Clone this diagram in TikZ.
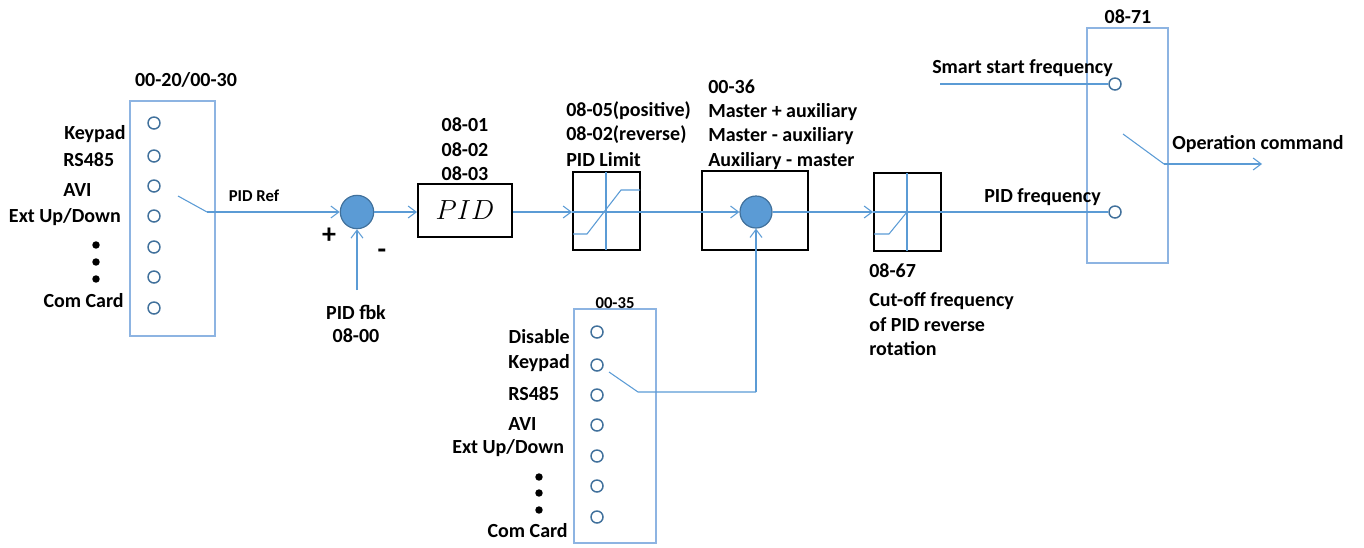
\documentclass[tikz,border=0pt]{standalone}
\usepackage{fontspec}
\setmainfont{Carlito}
\usetikzlibrary{arrows.meta}
\definecolor{ln}{HTML}{5B9BD5}
\definecolor{sw}{HTML}{8DB4E2}
\definecolor{cb}{HTML}{41719C}
\begin{document}
\begin{tikzpicture}[x=0.75pt,y=-0.75pt,
 lbl/.style={font=\fontsize{15}{18}\selectfont\bfseries, inner sep=0pt, yshift=-2.2pt},
 slbl/.style={font=\fontsize{12.5}{15}\selectfont\bfseries, inner sep=0pt, yshift=-2pt},
 sgn/.style={font=\fontsize{21}{24}\selectfont\bfseries, inner sep=0pt},
 swbox/.style={draw=sw, line width=0.9pt, inner sep=0pt},
 term/.style={circle, draw=cb, line width=1.1pt, fill=white, minimum size=9pt, inner sep=0pt},
 blk/.style={draw=black, line width=1.5pt, inner sep=0pt},
 sumc/.style={circle, fill=ln, draw=cb, line width=0.9pt, minimum size=25pt, inner sep=0pt},
 wire/.style={draw=ln, line width=0.8pt},
 arr/.style={wire, -{Straight Barb[length=6pt,width=9pt]}},
 dotm/.style={fill=black},
]
\useasboundingbox (0,0) rectangle (1364,547);

% ---------- source selector 00-20/00-30 ----------
\node[swbox, minimum width=63.75pt, minimum height=176.25pt] (b1) at (172.5,218.5) {};
\node[lbl] (t1) at (186,77) {00-20/00-30};
\foreach \i/\y in {1/123,2/156,3/186,4/216,5/247,6/277,7/308}
  \node[term] (a\i) at (154,\y) {};
\node[lbl, anchor=mid west] (l1) at (64,133) {Keypad};
\node[lbl, anchor=mid west] (l2) at (63,160) {RS485};
\node[lbl, anchor=mid west] (l3) at (63,190) {AVI};
\node[lbl, anchor=mid east] (l4) at (121,216) {Ext Up/Down};
\node[lbl, anchor=mid east] (l5) at (124,301) {Com Card};
\foreach \y in {245,262,279} \fill[dotm] (96,\y) circle (2.8pt);

% ---------- summing point 1 ----------
\node[sumc] (s1) at (357,212) {};
\coordinate (sw1a) at (178,196);
\coordinate (sw1b) at (207,212);
\draw[wire] (sw1a) -- (sw1b);
\draw[arr] (sw1b) -- (s1.west);
\node[slbl] (pidref) at (254,193) {PID Ref};
\node[sgn] (plus) at (329,236) {+};
\node[sgn] (minus) at (382,254) {-};
\coordinate (fb) at (357,290);
\draw[arr] (fb) -- (s1.south);
\node[lbl] (fbk1) at (356,310) {PID fbk};
\node[lbl] (fbk2) at (356,333) {08-00};

% ---------- PID block ----------
\node[blk, minimum width=70.5pt, minimum height=39.75pt] (pid) at (465,210.5)
  {\fontsize{21}{24}\selectfont$PID$};
\node[lbl] (p1) at (465,122) {08-01};
\node[lbl] (p2) at (465,147) {08-02};
\node[lbl] (p3) at (465,171) {08-03};
\draw[arr] (s1.east) -- (pid.west |- s1.east);

% ---------- PID limit ----------
\node[blk, minimum width=50.25pt, minimum height=58.5pt] (lim) at (606.5,211) {};
\draw[arr] (pid.east |- s1.east) -- (lim.west |- s1.east);
\draw[wire] (606,172) -- (606,250);
\draw[wire] (lim.west |- s1.east) -- (lim.east |- s1.east);
\draw[wire] (573,234) -- (587,234) -- (621,190) -- (640,190);
\node[lbl, anchor=mid west] (lm1) at (566,110) {08-05(positive)};
\node[lbl, anchor=mid west] (lm2) at (566,134) {08-02(reverse)};
\node[lbl, anchor=mid west] (lm3) at (566,160) {PID Limit};

% ---------- master/auxiliary ----------
\node[blk, minimum width=79.5pt, minimum height=59.25pt] (mix) at (755,210.5) {};
\node[sumc, minimum size=24pt] (s2) at (756,212) {};
\draw[arr] (lim.east |- s1.east) -- (s2.west);
\node[lbl, anchor=mid west] (m0) at (708,87) {00-36};
\node[lbl, anchor=mid west] (m1) at (708,111) {Master + auxiliary};
\node[lbl, anchor=mid west] (m2) at (708,135) {Master - auxiliary};
\node[lbl, anchor=mid west] (m3) at (708,160) {Auxiliary - master};

% ---------- cut-off 08-67 ----------
\node[blk, minimum width=50.25pt, minimum height=58.5pt] (cut) at (907.5,212) {};
\draw[arr] (s2.east) -- (cut.west |- s2.east);
\draw[wire] (907,173) -- (907,251);
\draw[wire] (cut.west |- s2.east) -- (cut.east |- s2.east);
\draw[wire] (874,234) -- (889,234) -- (907,212);
\node[lbl, anchor=mid west] (c0) at (869,271) {08-67};
\node[lbl, anchor=mid west] (c1) at (869,300) {Cut-off frequency};
\node[lbl, anchor=mid west] (c2) at (869,325) {of PID reverse};
\node[lbl, anchor=mid west] (c3) at (869,349) {rotation};

% ---------- output selector 08-71 ----------
\node[swbox, minimum width=60.75pt, minimum height=176.25pt] (b4) at (1127.5,145.5) {};
\node[lbl] (t4) at (1128,14) {08-71};
\node[term] (o1) at (1115,84) {};
\node[term] (o2) at (1115,212) {};
\coordinate (ss) at (940,84);
\draw[wire] (ss) -- (o1.west);
\draw[wire] (cut.east |- s2.east) -- (o2.west);
\node[lbl, anchor=mid west] (sst) at (932,67) {Smart start frequency};
\node[lbl, anchor=mid west] (pf) at (984,196) {PID frequency};
\coordinate (sw4a) at (1123,134);
\coordinate (sw4b) at (1164,164);
\coordinate (out) at (1262,164);
\draw[wire] (sw4a) -- (sw4b);
\draw[arr] (sw4b) -- (out);
\node[lbl, anchor=mid west] (oc) at (1172,143) {Operation command};

% ---------- auxiliary selector 00-35 ----------
\node[swbox, minimum width=61.5pt, minimum height=175.5pt] (b5) at (615,426) {};
\node[slbl] (t5) at (615,300) {00-35};
\foreach \i/\y in {1/332,2/365,3/395,4/425,5/456,6/486,7/517}
  \node[term] (e\i) at (597,\y) {};
\node[lbl, anchor=mid east] (k1) at (570,337) {Disable};
\node[lbl, anchor=mid east] (k2) at (570,362) {Keypad};
\node[lbl, anchor=mid west] (k3) at (508,394) {RS485};
\node[lbl, anchor=mid west] (k4) at (508,424) {AVI};
\node[lbl, anchor=mid west] (k5) at (452,447) {Ext Up/Down};
\node[lbl, anchor=mid east] (k6) at (568,531) {Com Card};
\foreach \y in {477,493,510} \fill[dotm] (539,\y) circle (2.8pt);
\coordinate (sw5a) at (609,372);
\coordinate (sw5b) at (638,392);
\coordinate (sw5c) at (756,392);
\draw[wire] (sw5a) -- (sw5b) -- (sw5c);
\draw[arr] (sw5c) -- (s2.south);
\end{tikzpicture}
\end{document}
